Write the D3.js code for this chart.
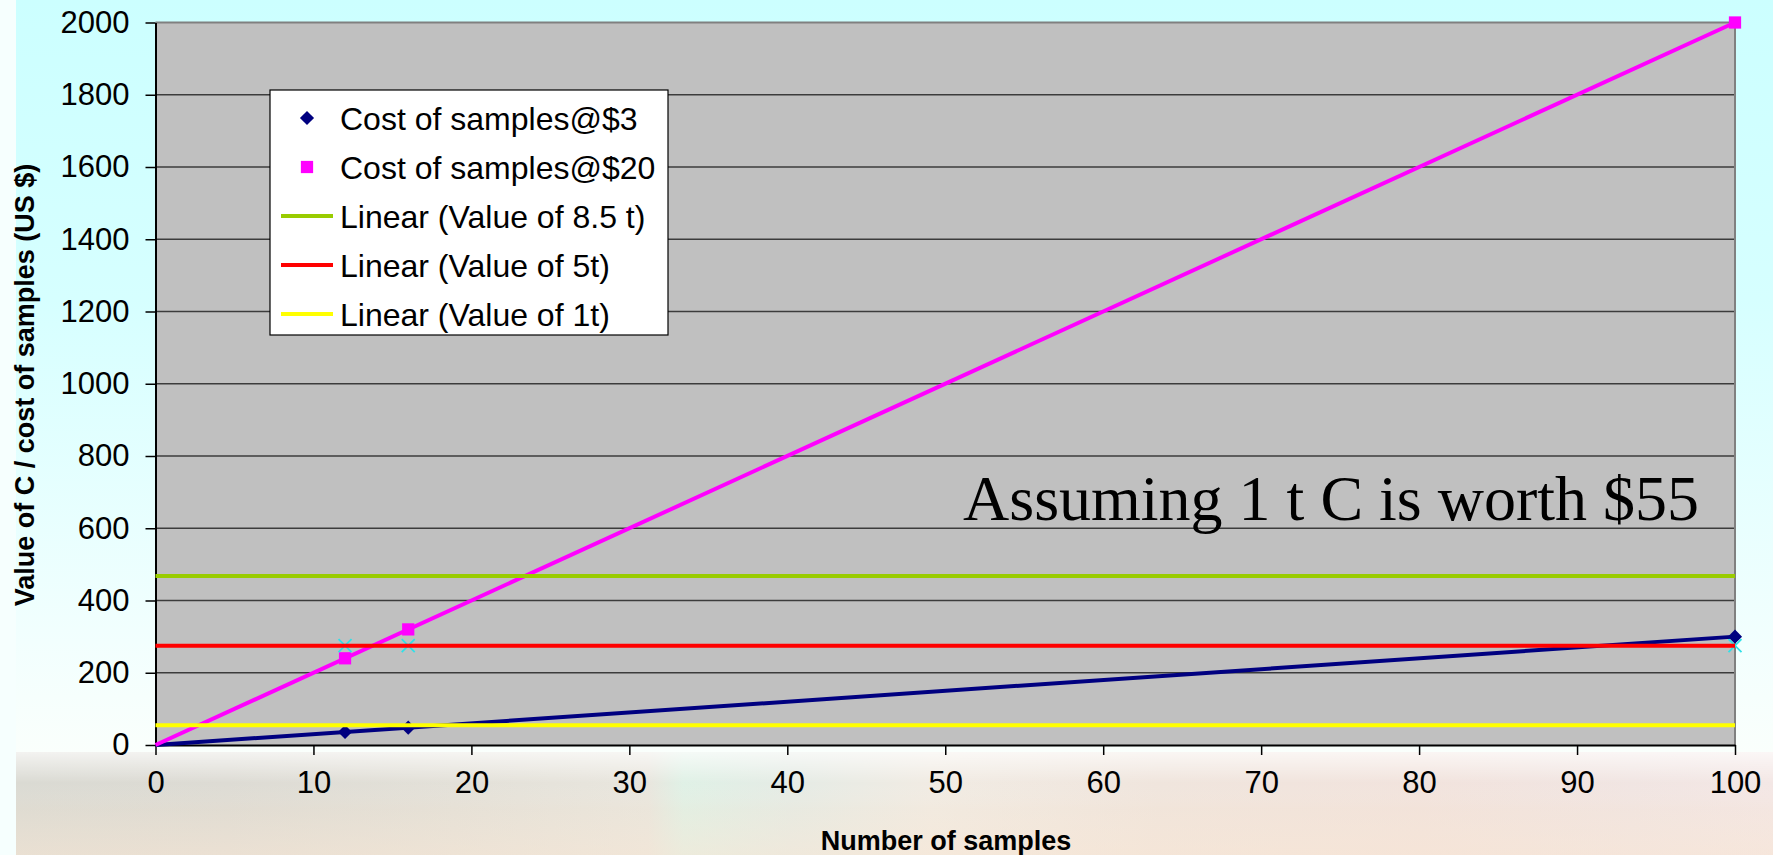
<!DOCTYPE html>
<html>
<head>
<meta charset="utf-8">
<script src="https://cdn.jsdelivr.net/npm/d3@7"></script>
<style>
  html, body { margin: 0; padding: 0; background: #ffffff; }
  svg { display: block; }
</style>
</head>
<body>
<svg id="chart" width="1773" height="855"></svg>
<script>
// Sampled plot sizes and the cost / carbon value of each
const sampleCounts = [12, 16, 100];
const costAt3 = [36, 48, 300];
const costAt20 = [240, 320, 2000];
const valueOf8_5t = [467.5, 467.5, 467.5];
const valueOf5t = [275, 275, 275];
const valueOf1t = [55, 55, 55];

const xTicks = [0, 10, 20, 30, 40, 50, 60, 70, 80, 90, 100];
const yTicks = [0, 200, 400, 600, 800, 1000, 1200, 1400, 1600, 1800, 2000];

const legendLabels = [
  "Cost of samples@$3",
  "Cost of samples@$20",
  "Linear (Value of 8.5 t)",
  "Linear (Value of 5t)",
  "Linear (Value of 1t)"
];
const noteText = "Assuming 1 t C is worth $55";

const SANS = "'Liberation Sans', Arial, sans-serif";
const SERIF = "'Liberation Serif', 'Times New Roman', serif";

const W = 1773, H = 855;
const plot = { left: 155.5, right: 1735, top: 22.5, bottom: 745 };

const svg = d3.select("#chart");
const defs = svg.append("defs");

// ---- slide background ----
const bgGrad = defs.append("linearGradient").attr("id", "bgGrad")
  .attr("x1", 0).attr("y1", 0).attr("x2", 0).attr("y2", 1);
[[0, "#ccffff"], [0.35, "#d6ffff"], [0.75, "#f2fffe"], [0.88, "#fafffc"], [1, "#fbfbf6"]]
  .forEach(([o, c]) => bgGrad.append("stop").attr("offset", o).attr("stop-color", c));
svg.append("rect").attr("width", W).attr("height", H).attr("fill", "url(#bgGrad)");
svg.append("rect").attr("width", 16).attr("height", H).attr("fill", "#f6fffe");

// soft photo strip along the bottom
const stripGrad = defs.append("linearGradient").attr("id", "stripGrad")
  .attr("x1", 0).attr("y1", 0).attr("x2", 1).attr("y2", 0);
[[0, "#d6d6ce"], [0.12, "#d9d7cf"], [0.25, "#e0ddd4"], [0.36, "#e6e3da"], [0.38, "#dcefe3"],
 [0.44, "#e2e9e2"], [0.52, "#efe9e0"], [0.65, "#eee2d9"], [0.8, "#f0e0d9"], [0.92, "#efe2df"], [1, "#f2e4e2"]]
  .forEach(([o, c]) => stripGrad.append("stop").attr("offset", o).attr("stop-color", c));
const fadeGrad = defs.append("linearGradient").attr("id", "fadeGrad")
  .attr("x1", 0).attr("y1", 0).attr("x2", 0).attr("y2", 1);
[[0, "rgba(255,255,255,0.7)"], [0.3, "rgba(255,255,255,0.1)"], [0.55, "rgba(250,236,220,0.25)"], [1, "rgba(250,232,214,0.55)"]]
  .forEach(([o, c]) => fadeGrad.append("stop").attr("offset", o).attr("stop-color", c));
svg.append("rect").attr("x", 16).attr("y", 752).attr("width", W - 16).attr("height", H - 752)
  .attr("fill", "url(#stripGrad)");
svg.append("rect").attr("x", 16).attr("y", 752).attr("width", W - 16).attr("height", H - 752)
  .attr("fill", "url(#fadeGrad)");

// ---- scales ----
const x = d3.scaleLinear().domain([0, 100]).range([plot.left, plot.right]);
const y = d3.scaleLinear().domain([0, 2000]).range([plot.bottom, plot.top]);

// plot area
svg.append("rect")
  .attr("x", x(0)).attr("y", y(2000))
  .attr("width", x(100) - x(0)).attr("height", y(0) - y(2000))
  .attr("fill", "#c0c0c0");

// horizontal gridlines
svg.append("g").selectAll("line")
  .data(yTicks.filter(v => v > 0 && v < 2000))
  .join("line")
  .attr("x1", x(0)).attr("x2", x(100))
  .attr("y1", d => y(d)).attr("y2", d => y(d))
  .attr("stroke", "#3c3c3c").attr("stroke-width", 1.5);

// plot border (top / right)
svg.append("path")
  .attr("d", `M${x(0)},${y(2000)}H${x(100)}V${y(0)}`)
  .attr("fill", "none").attr("stroke", "#808080").attr("stroke-width", 2);

// ---- axes ----
const yAxis = svg.append("g")
  .attr("transform", `translate(${x(0)},0)`)
  .call(d3.axisLeft(y).tickValues(yTicks).tickFormat(d3.format("d"))
    .tickSize(10).tickSizeOuter(0).tickPadding(16));
const xAxis = svg.append("g")
  .attr("transform", `translate(0,${y(0)})`)
  .call(d3.axisBottom(x).tickValues(xTicks).tickFormat(d3.format("d"))
    .tickSize(10).tickSizeOuter(0).tickPadding(16));
[yAxis, xAxis].forEach(g => {
  g.select(".domain").attr("stroke", "#000").attr("stroke-width", 2);
  g.selectAll(".tick line").attr("stroke", "#000").attr("stroke-width", 1.5);
  g.selectAll(".tick text")
    .style("font-family", SANS)
    .style("font-size", "31px").attr("fill", "#000");
});
xAxis.selectAll(".tick text").attr("dy", "0.7em");

// axis titles
svg.append("text")
  .attr("transform", "translate(34,385) rotate(-90)")
  .attr("text-anchor", "middle")
  .style("font-family", SANS).style("font-size", "27px").style("font-weight", "bold")
  .text("Value of C / cost of samples (US $)");
svg.append("text")
  .attr("x", 946).attr("y", 850)
  .attr("text-anchor", "middle")
  .style("font-family", SANS).style("font-size", "27px").style("font-weight", "bold")
  .text("Number of samples");

// ---- marker shapes ----
const diamondPath = d3.symbol().type(d3.symbolSquare).size(100)();
const squarePath = d3.symbol().type(d3.symbolSquare).size(150)();
const crossPath = (r) => {
  const p = d3.path();
  p.moveTo(-r, -r); p.lineTo(r, r);
  p.moveTo(-r, r); p.lineTo(r, -r);
  return p.toString();
};

const pts = (ys) => sampleCounts.map((s, i) => [s, ys[i]]);

const markerLayer = svg.append("g");
// cost @ $3 — navy diamonds
markerLayer.selectAll(".d3pt").data(pts(costAt3)).join("path")
  .attr("d", diamondPath)
  .attr("transform", d => `translate(${x(d[0])},${y(d[1])}) rotate(45)`)
  .attr("fill", "#000080");
// cost @ $20 — magenta squares
markerLayer.selectAll(".d20pt").data(pts(costAt20)).join("path")
  .attr("d", squarePath)
  .attr("transform", d => `translate(${x(d[0])},${y(d[1])})`)
  .attr("fill", "#ff00ff");
// value of 5 t — cyan crosses
markerLayer.selectAll(".v5pt").data(pts(valueOf5t)).join("path")
  .attr("d", crossPath(6.5))
  .attr("transform", d => `translate(${x(d[0])},${y(d[1])})`)
  .attr("fill", "none").attr("stroke", "#30e0e8").attr("stroke-width", 1.8);

// ---- linear trendlines, least-squares fit over the sampled points ----
function linearFit(xs, ys) {
  const mx = d3.mean(xs), my = d3.mean(ys);
  const sxx = d3.sum(xs, v => (v - mx) * (v - mx));
  const sxy = d3.sum(xs, (v, i) => (v - mx) * (ys[i] - my));
  const slope = sxx === 0 ? 0 : sxy / sxx;
  return { slope, intercept: my - slope * mx };
}
const trendSeries = [
  { ys: costAt3, color: "#000080" },
  { ys: costAt20, color: "#ff00ff" },
  { ys: valueOf8_5t, color: "#99cc00" },
  { ys: valueOf5t, color: "#ff0000" },
  { ys: valueOf1t, color: "#ffff00" }
];
const trendLine = d3.line().x(d => x(d[0])).y(d => y(d[1]));
svg.append("g").selectAll("path").data(trendSeries).join("path")
  .attr("d", s => {
    const f = linearFit(sampleCounts, s.ys);
    return trendLine([0, 100].map(t => [t, f.intercept + f.slope * t]));
  })
  .attr("fill", "none").attr("stroke", s => s.color).attr("stroke-width", 4);

// ---- legend ----
const legend = svg.append("g").attr("transform", "translate(270,90)");
legend.append("rect").attr("width", 398).attr("height", 245)
  .attr("fill", "#ffffff").attr("stroke", "#000").attr("stroke-width", 1.2);
const legendKeys = [
  { kind: "diamond", color: "#000080" },
  { kind: "square", color: "#ff00ff" },
  { kind: "line", color: "#99cc00" },
  { kind: "line", color: "#ff0000" },
  { kind: "line", color: "#ffff00" }
];
const rows = legend.selectAll("g.row").data(legendKeys).join("g")
  .attr("transform", (d, i) => `translate(0,${28 + i * 49})`);
rows.each(function (d) {
  const g = d3.select(this);
  if (d.kind === "diamond") {
    g.append("path").attr("d", diamondPath)
      .attr("transform", "translate(37,0) rotate(45)").attr("fill", d.color);
  } else if (d.kind === "square") {
    g.append("path").attr("d", squarePath)
      .attr("transform", "translate(37,0)").attr("fill", d.color);
  } else {
    g.append("line").attr("x1", 11).attr("x2", 63).attr("y1", 0).attr("y2", 0)
      .attr("stroke", d.color).attr("stroke-width", 4);
  }
});
rows.append("text")
  .attr("x", 70).attr("dy", "0.36em")
  .style("font-family", SANS).style("font-size", "32px").attr("fill", "#000")
  .text((d, i) => legendLabels[i]);

// ---- note ----
svg.append("text")
  .attr("x", 963).attr("y", 520)
  .style("font-family", SERIF).style("font-size", "64px").attr("fill", "#000")
  .text(noteText);
</script>
</body>
</html>
